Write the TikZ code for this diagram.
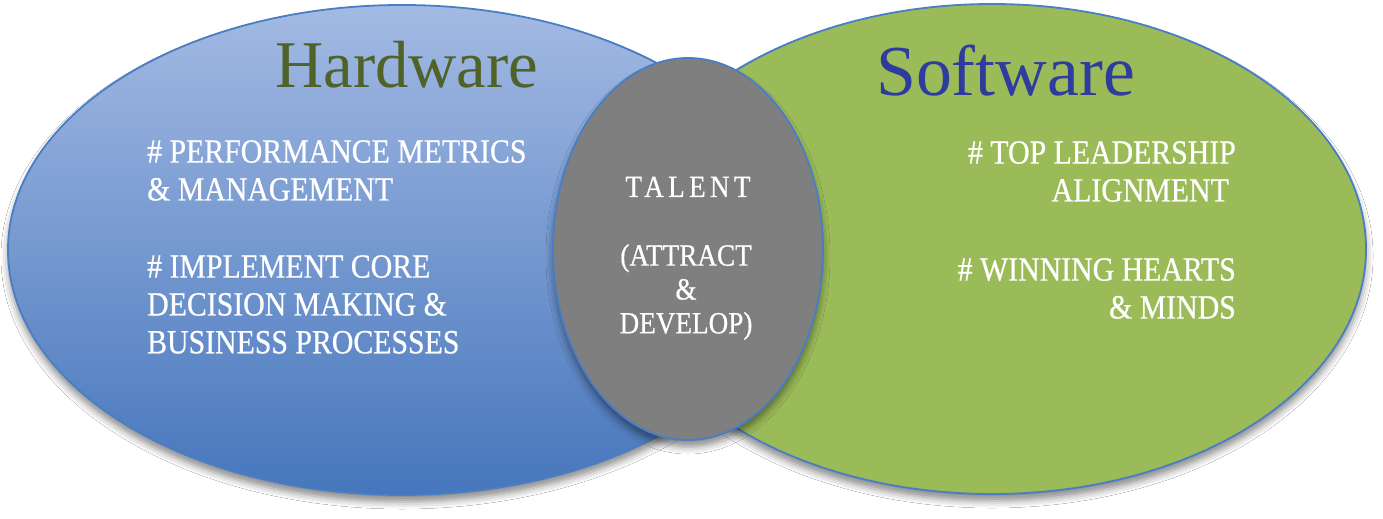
\documentclass[tikz,border=0pt]{standalone}
\usepackage{fontspec}
\setmainfont{Liberation Serif}
\newfontfamily\bodyfont[FakeStretch=0.88, FakeBold=0.6]{Liberation Serif}
\newfontfamily\talentfont[FakeStretch=0.88, FakeBold=0.6, LetterSpace=14]{Liberation Serif}
\usetikzlibrary{shapes.geometric,shadows.blur}
\definecolor{hwTop}{HTML}{A3BAE3}
\definecolor{hwBot}{HTML}{4676BC}
\definecolor{swGreen}{HTML}{9BBB59}
\definecolor{talentGray}{HTML}{7F7F7F}
\definecolor{rimBlue}{HTML}{4A7EC4}
\definecolor{hwText}{HTML}{4F6228}
\definecolor{swText}{HTML}{2E3C9E}
\begin{document}
\begin{tikzpicture}[x=1bp,y=-1bp,
  oval/.style={ellipse, draw=rimBlue, line width=1.8bp, inner sep=0pt,
    blur shadow={shadow xshift=0bp, shadow yshift=-7bp, shadow blur radius=7bp, shadow opacity=45}},
  title/.style={inner sep=0pt, anchor=base west},
  wtxt/.style={text=white, inner sep=0pt, font=\bodyfont\fontsize{34}{38}\selectfont},
  gtxt/.style={text=white, inner sep=0pt, align=center, font=\bodyfont\fontsize{31}{34}\selectfont}]
\useasboundingbox (0,0) rectangle (1383,519);
\fill[white] (0,0) rectangle (1383,519);
% ovals
\node[oval, top color=hwTop, bottom color=hwBot, minimum width=788bp, minimum height=490bp] (hw) at (402,250) {};
\node[oval, fill=swGreen, minimum width=748bp, minimum height=490bp] (sw) at (992,249) {};
\node[oval, fill=talentGray, minimum width=270bp, minimum height=382bp] (tal) at (688,249) {};
% titles
\node[title, text=hwText, font=\fontsize{67}{70}\selectfont] (hwt) at (275,88) {Hardware};
\node[title, text=swText, font=\fontsize{72}{76}\selectfont] (swt) at (876,96) {Software};
% left block
\node[wtxt, align=left, anchor=north west] (hw1) at (147,140) {\# PERFORMANCE METRICS\\\& MANAGEMENT};
\node[wtxt, align=left, anchor=north west] (hw2) at (147,255) {\# IMPLEMENT CORE\\DECISION MAKING \&\\BUSINESS PROCESSES};
% right block
\node[wtxt, align=right, anchor=north east] (sw1) at (1236,141) {\# TOP LEADERSHIP\\ALIGNMENT\hspace*{7bp}};
\node[wtxt, align=right, anchor=north east] (sw2) at (1236,258) {\# WINNING HEARTS\\\& MINDS};
% centre
\node[text=white, inner sep=0pt, anchor=base, font=\talentfont\fontsize{31}{34}\selectfont] (t1) at (688,197) {TALENT};
\node[gtxt, anchor=north] (t2) at (686,244) {(ATTRACT\\\&\\DEVELOP)};
\end{tikzpicture}
\end{document}
